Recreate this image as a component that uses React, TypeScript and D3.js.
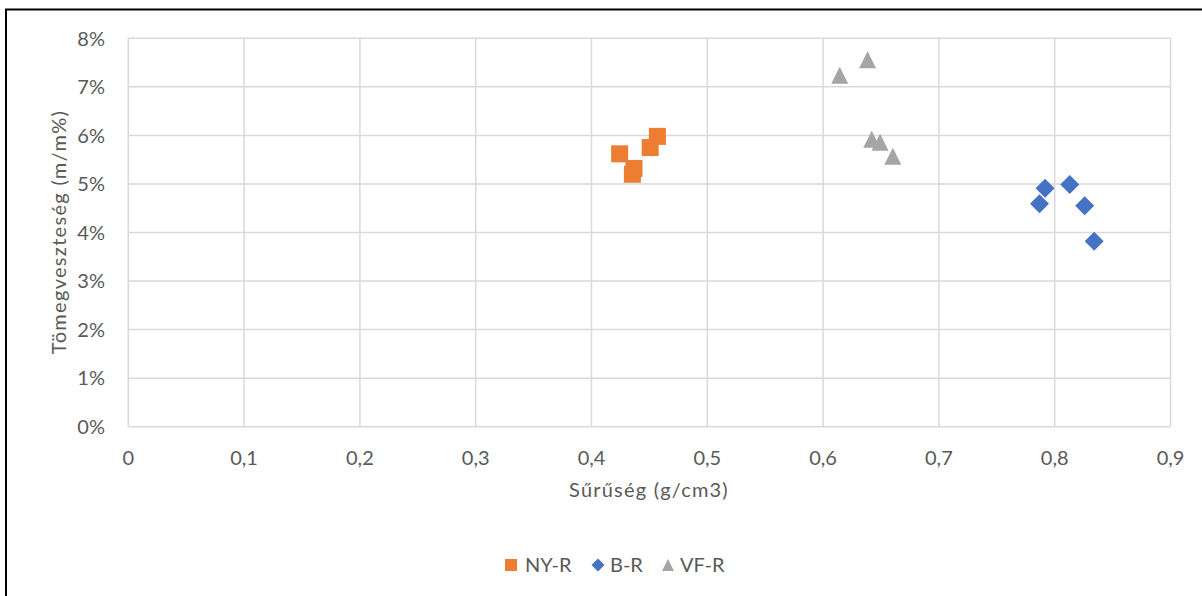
import React from "react";
import * as d3 from "d3";

// Density (g/cm3) vs mass loss (m/m%) for three wood groups
const nyrDensity = [0.4243, 0.4367, 0.4353, 0.4507, 0.4569];
const nyrLoss = [5.62, 5.32, 5.2, 5.75, 5.98];

const brDensity = [0.7917, 0.7869, 0.813, 0.8259, 0.8341];
const brLoss = [4.91, 4.59, 4.99, 4.55, 3.82];

const vfrDensity = [0.6143, 0.6384, 0.642, 0.6492, 0.6602];
const vfrLoss = [7.24, 7.56, 5.92, 5.86, 5.57];

const xTicks = [0, 0.1, 0.2, 0.3, 0.4, 0.5, 0.6, 0.7, 0.8, 0.9];
const yTicks = [0, 1, 2, 3, 4, 5, 6, 7, 8];

const seriesNames = ["NY-R", "B-R", "VF-R"];

const W = 1202;
const H = 596;
const FONT = "Lato, 'Open Sans', sans-serif";
const TEXT = "#595959";
const GRID = "#d9d9d9";
const FS = 20;

const COLORS = { orange: "#ED7D31", blue: "#4472C4", gray: "#A5A5A5" };

type Shape = "square" | "diamond" | "triangle";

function markerPath(shape: Shape, s: number): string {
  const h = s / 2;
  if (shape === "square") return `M${-h},${-h}H${h}V${h}H${-h}Z`;
  if (shape === "diamond") return `M0,${-h - 1}L${h + 1},0L0,${h + 1}L${-h - 1},0Z`;
  return `M0,${-h}L${h},${h}L${-h},${h}Z`;
}

export default function App() {
  const x = d3.scaleLinear().domain([0, 0.9]).range([128.3, 1170.5]);
  const y = d3.scaleLinear().domain([0, 8]).range([426.7, 38.3]);
  const fmtX = (v: number) => (v === 0 ? "0" : d3.format(".1f")(v).replace(".", ","));

  const series = [
    { name: seriesNames[0], xs: nyrDensity, ys: nyrLoss, color: COLORS.orange, shape: "square" as Shape },
    { name: seriesNames[1], xs: brDensity, ys: brLoss, color: COLORS.blue, shape: "diamond" as Shape },
    { name: seriesNames[2], xs: vfrDensity, ys: vfrLoss, color: COLORS.gray, shape: "triangle" as Shape },
  ];

  const legendItems = [
    { cx: 511, tx: 525 },
    { cx: 598, tx: 610 },
    { cx: 668, tx: 680 },
  ];

  return (
    <svg
      width={W}
      height={H}
      style={{ position: "absolute", left: 0, top: 0, display: "block" }}
      fontFamily={FONT}
    >
      <rect x={0} y={0} width={W} height={H} fill="#fff" />
      {/* outer frame */}
      <rect x={6} y={9.5} width={W + 20} height={H + 20} fill="none" stroke="#000" strokeWidth={2} />

      {/* gridlines */}
      {yTicks.map((t) => (
        <line key={"gy" + t} x1={x(0)} x2={x(0.9)} y1={y(t)} y2={y(t)} stroke={GRID} strokeWidth={1.5} />
      ))}
      {xTicks.map((t) => (
        <line key={"gx" + t} x1={x(t)} x2={x(t)} y1={y(0)} y2={y(8)} stroke={GRID} strokeWidth={1.5} />
      ))}

      {/* y tick labels */}
      {yTicks.map((t) => (
        <text key={"ly" + t} x={105} y={y(t)} dy="0.36em" textAnchor="end" fill={TEXT} fontSize={FS}>
          {t + "%"}
        </text>
      ))}
      {/* x tick labels */}
      {xTicks.map((t) => (
        <text key={"lx" + t} x={x(t)} y={465} textAnchor="middle" fill={TEXT} fontSize={FS}>
          {fmtX(t)}
        </text>
      ))}

      {/* axis titles */}
      <text x={649} y={497} textAnchor="middle" fill={TEXT} fontSize={FS} letterSpacing={1.2}>
        Sűrűség (g/cm3)
      </text>
      <text
        transform={`translate(66,232) rotate(-90)`}
        textAnchor="middle"
        fill={TEXT}
        fontSize={FS}
        letterSpacing={1.3}
      >
        Tömegveszteség (m/m%)
      </text>

      {/* markers */}
      {series.map((s) =>
        s.xs.map((d, i) => (
          <path
            key={s.name + i}
            d={markerPath(s.shape, 17)}
            transform={`translate(${x(d)},${y(s.ys[i])})`}
            fill={s.color}
          />
        ))
      )}

      {/* legend */}
      {series.map((s, i) => (
        <g key={"lg" + s.name}>
          <path
            d={markerPath(s.shape, s.shape === "diamond" ? 11 : 12)}
            transform={`translate(${legendItems[i].cx},565)`}
            fill={s.color}
          />
          <text x={legendItems[i].tx} y={565} dy="0.36em" fill={TEXT} fontSize={FS}>
            {s.name}
          </text>
        </g>
      ))}
    </svg>
  );
}
